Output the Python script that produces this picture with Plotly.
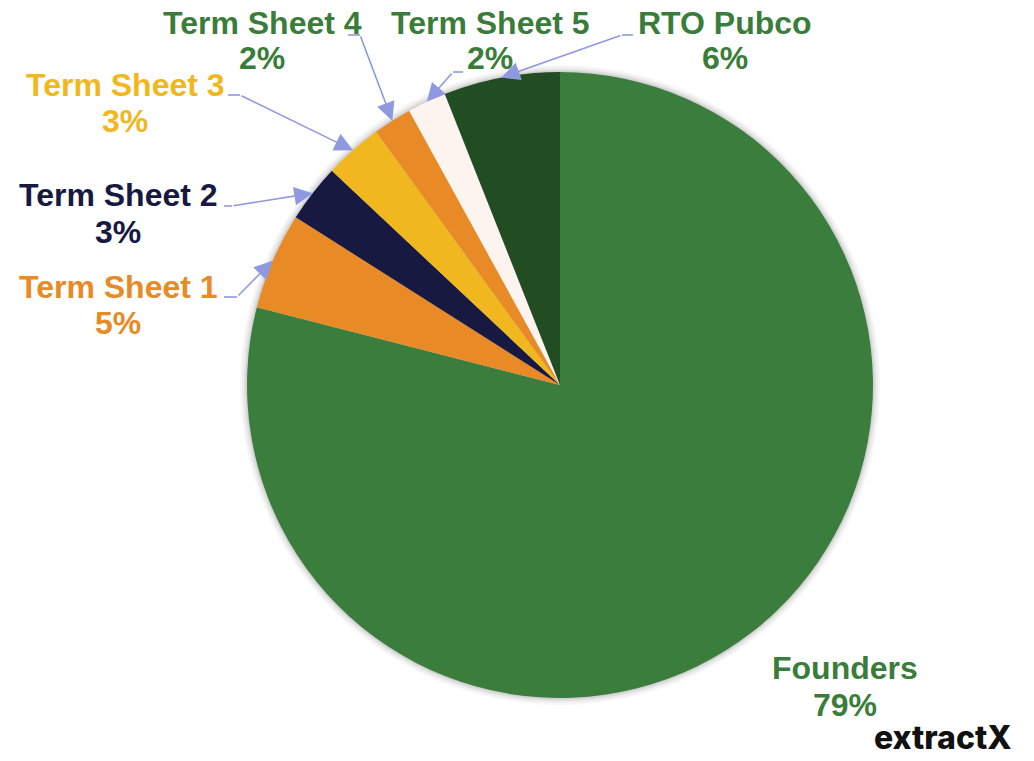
import math
import plotly.graph_objects as go

# ---- data ----
labels = ["Founders", "Term Sheet 1", "Term Sheet 2", "Term Sheet 3",
          "Term Sheet 4", "Term Sheet 5", "RTO Pubco"]
values = [79, 5, 3, 3, 2, 2, 6]
slice_colors = ["#3A7D3C", "#E88A25", "#171941", "#F0B81E",
                "#E88A25", "#FDF3EF", "#224D22"]
label_colors = ["#3A7D3A", "#E88A25", "#171941", "#F0B81E",
                "#3A7D3A", "#3A7D3A", "#3A7D3A"]

# ---- layout geometry (page pixels) ----
PAGE_W, PAGE_H = 1034, 761
OFF = 8                      # default body margin of the page
W, H = PAGE_W - 2 * OFF, PAGE_H - 2 * OFF
CX, CY, R = 560, 385, 313

# label line centres (x centre, name line y, percent line y)
label_pos = {
    "Founders":     (845, 668, 705),
    "Term Sheet 1": (118, 287, 323),
    "Term Sheet 2": (118, 195, 232),
    "Term Sheet 3": (125, 85, 121),
    "Term Sheet 4": (262, 23, 58),
    "Term Sheet 5": (490, 23, 58),
    "RTO Pubco":    (725, 23, 58),
}
# leader line: horizontal start, elbow (page pixels)
leaders = {
    "Term Sheet 1": ((224, 297), (237, 297)),
    "Term Sheet 2": ((224, 206), (232, 206)),
    "Term Sheet 3": ((228, 95), (240, 95)),
    "Term Sheet 4": ((348, 35), (360, 35)),
    "Term Sheet 5": ((463, 72), (453, 72)),
    "RTO Pubco":    ((633, 35), (622, 35)),
}
LEADER_COLOR = "#8F99E0"


def px(x):
    return (x - OFF) / W


def py(y):
    return 1 - (y - OFF) / H


fig = go.Figure()

# soft shadow behind the pie
for dr, a in [(7, 0.03), (5, 0.04), (3, 0.05), (1.5, 0.06)]:
    r = R + dr
    fig.add_trace(go.Pie(
        values=[1], labels=["s"], sort=False, textinfo="none", hoverinfo="skip",
        marker=dict(colors=[f"rgba(0,0,0,{a})"], line=dict(width=0)),
        domain=dict(x=[px(CX - r), px(CX + r)], y=[py(CY + r), py(CY - r)]),
        showlegend=False,
    ))

fig.add_trace(go.Pie(
    labels=labels, values=values, sort=False, direction="clockwise",
    rotation=0, textinfo="none",
    marker=dict(colors=slice_colors, line=dict(width=0)),
    domain=dict(x=[px(CX - R), px(CX + R)], y=[py(CY + R), py(CY - R)]),
    showlegend=False,
))

total = sum(values)
annotations = []
shapes = []
cum = 0
for lab, val, col in zip(labels, values, label_colors):
    mid = (cum + val / 2) / total * 2 * math.pi
    cum += val
    xc, y1, y2 = label_pos[lab]
    pct = f"{round(val / total * 100)}%"
    for txt, yy in [(lab, y1), (pct, y2)]:
        annotations.append(dict(
            x=px(xc), y=py(yy), xref="paper", yref="paper",
            text=f"<b>{txt}</b>", showarrow=False,
            font=dict(family="Liberation Sans, Arial, sans-serif", size=32, color=col),
            xanchor="center", yanchor="middle",
        ))
    if lab in leaders:
        (sx, sy), (ex, ey) = leaders[lab]
        tx = CX + R * math.sin(mid)
        ty = CY - R * math.cos(mid)
        shapes.append(dict(type="line", xref="paper", yref="paper",
                           x0=px(sx), y0=py(sy), x1=px(ex), y1=py(ey),
                           line=dict(color=LEADER_COLOR, width=1.6)))
        annotations.append(dict(
            x=px(tx), y=py(ty), xref="paper", yref="paper",
            ax=ex - tx, ay=ey - ty, axref="pixel", ayref="pixel",
            text="", showarrow=True, arrowhead=2, arrowsize=2.3,
            arrowwidth=1.6, arrowcolor=LEADER_COLOR, standoff=0, startstandoff=0,
        ))

annotations.append(dict(
    x=px(1014), y=py(759), xref="paper", yref="paper",
    text="extractX", showarrow=False,
    font=dict(family="Inter, Liberation Sans, sans-serif", size=32,
              color="#111111", weight=800),
    xanchor="right", yanchor="bottom",
))

fig.update_layout(
    width=W, height=H,
    margin=dict(l=0, r=0, t=0, b=0),
    paper_bgcolor="white", plot_bgcolor="white",
    annotations=annotations, shapes=shapes,
)

fig.write_html("out.html")
